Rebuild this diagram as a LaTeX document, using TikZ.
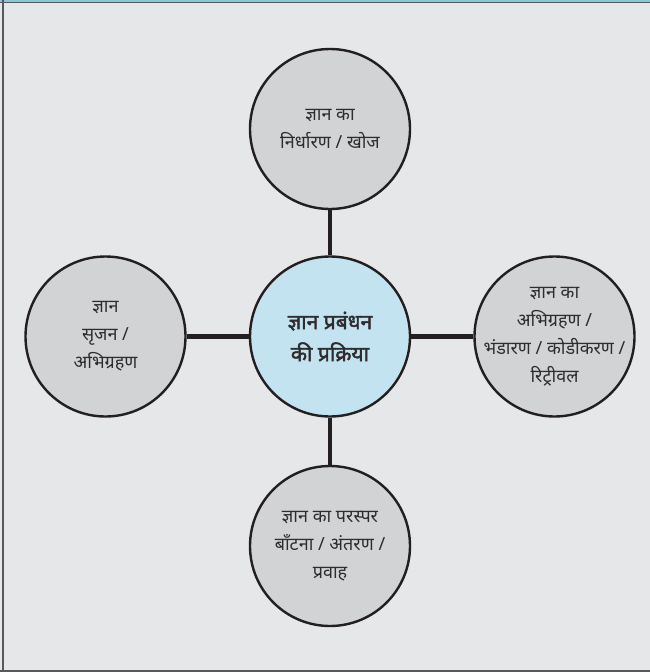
\documentclass[tikz,border=0pt]{standalone}
\usepackage{fontspec}
\newfontfamily\deva[Script=Devanagari]{Noto Sans}
\newfontfamily\devab[Script=Devanagari,FakeBold=2]{Noto Sans}
\definecolor{bgc}{HTML}{E6E7E8}
\definecolor{circc}{HTML}{D1D3D4}
\definecolor{cenc}{HTML}{C3E3F1}
\definecolor{framec}{HTML}{58595B}
\definecolor{topblue}{HTML}{8CC4DA}
\definecolor{txtc}{HTML}{2E2C2D}
\definecolor{linec}{HTML}{231F20}
\tikzset{
  outer/.style={circle, draw=linec, line width=2.4pt, fill=circc, minimum size=160pt, inner sep=-30pt, align=center, text=txtc, font=\deva\fontsize{18}{28}\selectfont},
  centre/.style={outer, fill=cenc, font=\devab\fontsize{21}{32}\selectfont},
  link/.style={draw=linec, line width=4.5pt}
}
\begin{document}
\begin{tikzpicture}[x=1pt,y=-1pt]
\useasboundingbox (0,0) rectangle (650,672);
\fill[bgc] (0,0) rectangle (650,672);
\draw[topblue, line width=1.6pt] (0,0.8) -- (650,0.8);
\draw[framec, line width=1pt] (0,2.2) -- (650,2.2);
\draw[framec, line width=2.2pt] (3,0) -- (3,672);
\draw[framec, line width=2pt] (0,671) -- (650,671);
\node[centre] (c) at (330,336.5) {ज्ञान प्रबंधन\\की प्रक्रिया};
\node[outer] (t) at (330,129) {ज्ञान का\\निर्धारण / खोज};
\node[outer] (l) at (105.5,336.5) {ज्ञान\\सृजन /\\अभिग्रहण};
\node[outer] (r) at (554.5,336.5) {ज्ञान का\\अभिग्रहण /\\भंडारण / कोडीकरण /\\रिट्रीवल};
\node[outer] (b) at (330,546) {ज्ञान का परस्पर\\बाँटना / अंतरण /\\प्रवाह};
\draw[link] (c.north) -- (t.south);
\draw[link] (c.south) -- (b.north);
\draw[link] (c.west) -- (l.east);
\draw[link] (c.east) -- (r.west);
\end{tikzpicture}
\end{document}
